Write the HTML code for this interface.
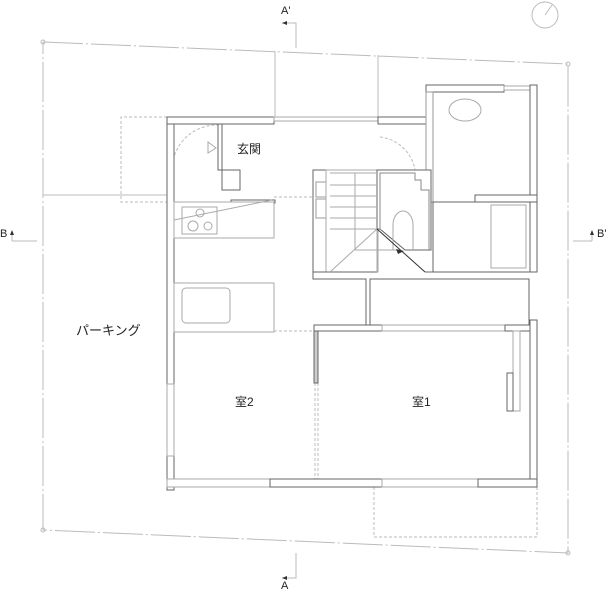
<!DOCTYPE html>
<html><head><meta charset="utf-8"><style>
html,body{margin:0;padding:0;background:#fff;width:610px;height:600px;overflow:hidden}
svg{display:block}
text{font-family:"Liberation Sans","Noto Sans CJK JP",sans-serif;fill:#222}
</style></head><body>
<svg width="610" height="600" viewBox="0 0 610 600" xmlns="http://www.w3.org/2000/svg">
<g fill="none" stroke="#bbb" stroke-width="1">
  <polyline points="43,42 568,64 568,553 43,530 43,42" stroke-dasharray="40,3,2,3"/>
  <circle cx="43" cy="42" r="2"/><circle cx="568" cy="64" r="2"/><circle cx="568" cy="553" r="2"/><circle cx="43" cy="530" r="2"/>
  <line x1="275" y1="51" x2="275" y2="117"/>
  <line x1="378" y1="55" x2="378" y2="117"/>
  <line x1="43" y1="195" x2="167" y2="195"/>
  <circle cx="545" cy="15" r="13"/><line x1="545" y1="15" x2="552" y2="5"/>
  <polyline points="282,23 296,23 296,48"/>
  <polyline points="12,241 37,241"/><line x1="12" y1="241" x2="12" y2="233"/>
  <polyline points="592,241 573,241"/><line x1="592" y1="241" x2="592" y2="233"/>
  <polyline points="282,578 296,578 296,553"/>
</g>
<g fill="none" stroke="#bbb" stroke-dasharray="3,2">
  <polyline points="167,117 121,117 121,202 167,202"/>
  <polyline points="374,487 374,537 537,537 537,487"/>
  <line x1="274" y1="197" x2="313" y2="197"/>
  <line x1="274" y1="331" x2="314" y2="331"/>
  <line x1="315" y1="383" x2="315" y2="479"/><line x1="318" y1="383" x2="318" y2="479"/>
  <path d="M172,170 A45,45 0 0 1 218,125"/>
  <path d="M380,137 A40,40 0 0 1 415,170"/>
</g>
<g fill="#fff" stroke="#666" stroke-width="1">
  <rect x="167" y="117" width="107" height="7"/>
  <rect x="274" y="117" width="104" height="4" stroke="#aaa"/>
  <rect x="378" y="117" width="55" height="7"/>
  <rect x="426" y="85" width="78" height="7"/>
  <rect x="504" y="86" width="26" height="4" stroke="#aaa"/>
  <rect x="530" y="85" width="7" height="117"/>
  <rect x="426" y="92" width="7" height="110" stroke="#999"/>
  <rect x="167" y="124" width="7" height="366"/>
  <rect x="218" y="124" width="4" height="46"/>
  <rect x="222" y="170" width="18" height="20"/>
  <rect x="231" y="200" width="44" height="3"/>
  <rect x="174" y="202" width="100" height="36" stroke="#aaa"/>
  <rect x="182" y="207" width="35" height="27" stroke="#aaa"/>
  <circle cx="200" cy="213" r="4" stroke="#aaa"/><circle cx="193" cy="226" r="5" stroke="#aaa"/><circle cx="208" cy="226" r="4" stroke="#aaa"/>
  <rect x="174" y="283" width="100" height="49" stroke="#aaa"/>
  <rect x="182" y="288" width="48" height="35" rx="4" stroke="#aaa"/>
  <rect x="313" y="170" width="13" height="102"/>
  <rect x="316" y="182" width="10" height="15" stroke="#999"/><rect x="316" y="199" width="10" height="19" stroke="#999"/>
  <rect x="326" y="170" width="52" height="102" stroke="#aaa"/>
  <polygon points="377,170 431,170 431,250 405,250 380,229 377,229"/>
  <polyline points="380,229 380,173 415,173 415,180 421,180 421,190 429,190 429,250" stroke="#888"/>
  <rect x="433" y="202" width="97" height="70"/>
  <rect x="475" y="195" width="62" height="7"/>
  <rect x="530" y="202" width="7" height="70"/>
  <rect x="491" y="205" width="35" height="63" stroke="#aaa"/>
  <ellipse cx="465" cy="110" rx="16" ry="11" stroke="#aaa"/>
  <line x1="313" y1="272" x2="377" y2="272"/>
  <line x1="425" y1="272" x2="537" y2="272"/>
  <polyline points="313,272 313,279 366,279 366,325" fill="none"/>
  <rect x="370" y="279" width="159" height="46"/>
  <rect x="314" y="325" width="68" height="6"/>
  <rect x="382" y="325" width="123" height="6" stroke="#aaa"/>
  <rect x="505" y="325" width="25" height="6"/>
  <rect x="314" y="331" width="4" height="52" fill="#ccc"/>
  <rect x="530" y="320" width="7" height="167"/>
  <rect x="513" y="331" width="7" height="80" stroke="#aaa"/>
  <rect x="507" y="373" width="6" height="38"/>
  <rect x="167" y="479" width="103" height="8" stroke="#aaa"/>
  <rect x="270" y="479" width="112" height="8"/>
  <rect x="382" y="479" width="96" height="8" stroke="#aaa"/>
  <rect x="478" y="479" width="59" height="8"/>
  <rect x="167" y="384" width="7" height="72" stroke="#aaa"/>
</g>
<g stroke="#aaa" fill="none">
  <line x1="330" y1="173" x2="377" y2="173"/><line x1="330" y1="185" x2="377" y2="185"/><line x1="330" y1="196" x2="377" y2="196"/><line x1="330" y1="207" x2="377" y2="207"/><line x1="330" y1="218" x2="377" y2="218"/><line x1="330" y1="229" x2="377" y2="229"/>
  <line x1="355" y1="173" x2="355" y2="250"/>
  <line x1="355" y1="250" x2="400" y2="250"/>
  <line x1="377" y1="229" x2="377" y2="272"/>
  <line x1="330" y1="272" x2="377" y2="229"/>
  <line x1="174" y1="220" x2="272" y2="200"/>
  <path d="M393,250 L393,225 A10,14 0 0 1 413,225 L413,250"/>
  <polygon points="208,142 208,153 216,148"/>
</g>
<line x1="377" y1="229" x2="425" y2="272" stroke="#333"/>
<polygon points="396,249 404,251 398,254" fill="#333"/>
<polygon points="282,23 287,21 287,25" fill="#333"/>
<polygon points="12,230 10,235 14,235" fill="#333"/>
<polygon points="592,230 590,235 594,235" fill="#333"/>
<polygon points="282,578 287,576 287,580" fill="#333"/>
<text x="237" y="153" font-size="12">玄関</text>
<text x="76" y="335" font-size="13">パーキング</text>
<text x="235" y="406" font-size="12">室2</text>
<text x="412" y="406" font-size="12">室1</text>
<text x="281" y="14" font-size="11">A'</text>
<text x="281" y="589" font-size="11">A</text>
<text x="0" y="237" font-size="11">B</text>
<text x="597" y="237" font-size="11">B'</text>
</svg>
</body></html>
